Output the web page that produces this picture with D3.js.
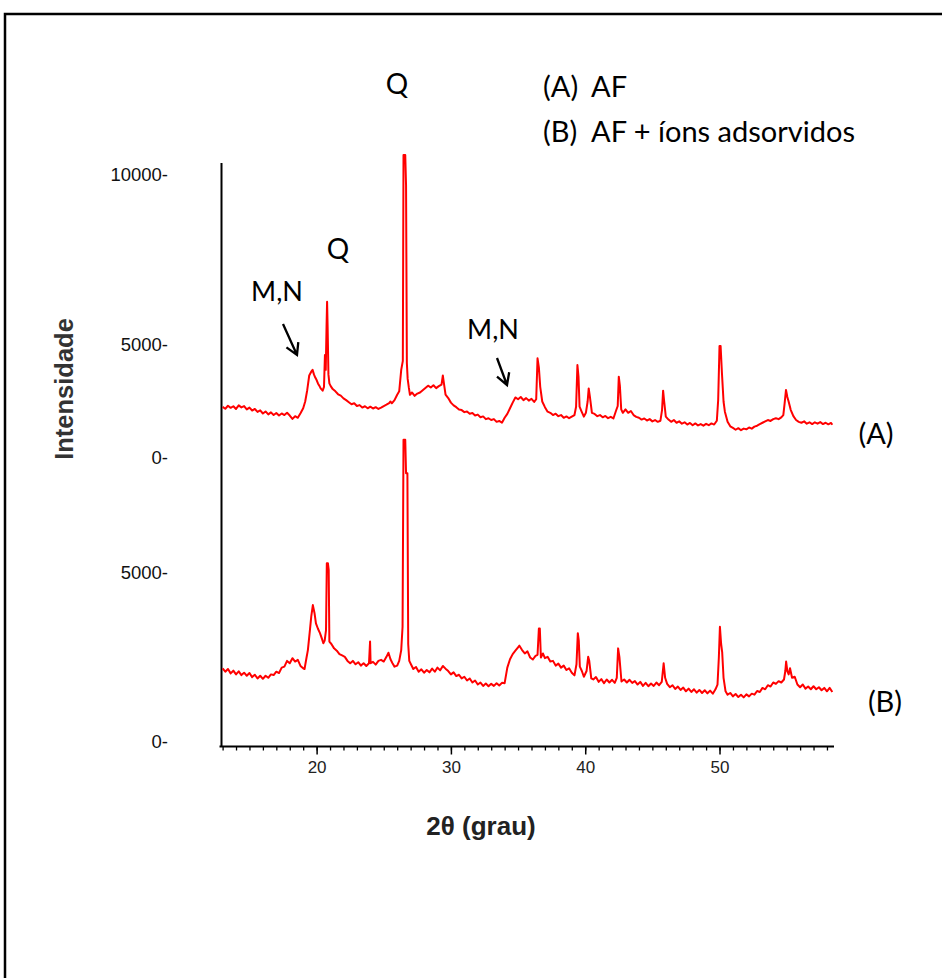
<!DOCTYPE html>
<html>
<head>
<meta charset="utf-8">
<script src="https://cdn.jsdelivr.net/npm/d3@7"></script>
<style>
  body { margin: 0; background: #fff; }
  svg { display: block; }
</style>
</head>
<body>
<div id="chart"></div>
<script>
// tick values
const xMajorTicks = [20, 30, 40, 50];
const xMinorTicks = d3.range(13, 59, 1);
const yTicksA = [0, 5000, 10000];
const yTicksB = [0, 5000];

// (A) AF  -  [2theta, intensity]
const patternA = [
  [13.0,2260],[13.2,2180],[13.4,2310],[13.6,2220],[13.8,2290],[14.0,2170],[14.2,2330],[14.4,2240],[14.6,2300],[14.8,2150],
  [15.0,2230],[15.2,2100],[15.4,2170],[15.6,2040],[15.8,2110],[16.0,1970],[16.2,2060],[16.4,1930],[16.6,2020],[16.8,1900],
  [17.0,1990],[17.2,1880],[17.4,1970],[17.6,1900],[17.8,2000],[18.0,1880],[18.2,1730],[18.4,1850],[18.6,1780],[18.8,1980],
  [19.0,2200],[19.15,2500],[19.3,3000],[19.45,3650],[19.6,3820],[19.7,3900],[19.8,3700],[19.9,3560],[20.0,3450],[20.1,3300],
  [20.2,3200],[20.3,3080],[20.45,2980],[20.55,3150],[20.62,4560],[20.68,3900],[20.74,5540],[20.78,6270],[20.82,5540],[20.88,3700],
  [20.95,3300],[21.05,3180],[21.2,3050],[21.4,2950],[21.6,2820],[21.8,2760],[22.0,2640],[22.2,2560],[22.4,2470],[22.6,2380],
  [22.8,2420],[23.0,2300],[23.2,2340],[23.4,2230],[23.6,2290],[23.8,2200],[24.0,2270],[24.2,2190],[24.4,2250],[24.6,2170],
  [24.8,2230],[25.0,2300],[25.2,2360],[25.4,2430],[25.5,2500],[25.6,2420],[25.8,2560],[26.0,2800],[26.15,2950],[26.3,3900],
  [26.42,4300],[26.47,10590],[26.6,10590],[26.66,9700],[26.72,4200],[26.78,3500],[26.87,3100],[26.95,2800],[27.1,2900],[27.3,2750],
  [27.5,2850],[27.7,2900],[27.9,3000],[28.1,3100],[28.3,3200],[28.5,3120],[28.7,3220],[28.9,3090],[29.1,3180],[29.3,3250],
  [29.4,3650],[29.48,3300],[29.6,2800],[29.8,2650],[30.0,2450],[30.2,2330],[30.4,2250],[30.6,2150],[30.8,2120],[31.0,2030],
  [31.2,2060],[31.4,1960],[31.6,1990],[31.8,1880],[32.0,1920],[32.2,1800],[32.4,1840],[32.6,1720],[32.8,1760],[33.0,1680],
  [33.2,1720],[33.4,1600],[33.6,1640],[33.8,1560],[34.0,1780],[34.2,1950],[34.4,2200],[34.6,2450],[34.8,2680],[35.0,2600],
  [35.2,2700],[35.4,2560],[35.6,2650],[35.8,2540],[36.0,2620],[36.2,2480],[36.35,2600],[36.45,4410],[36.55,4000],[36.65,3150],
  [36.8,2500],[37.0,2250],[37.2,2050],[37.4,2000],[37.6,1900],[37.8,1960],[38.0,1850],[38.2,1900],[38.4,1780],[38.6,1840],
  [38.8,1760],[39.0,1830],[39.2,1900],[39.32,2270],[39.42,4110],[39.5,3600],[39.58,2270],[39.7,2100],[39.9,1830],[40.05,2000],
  [40.18,2500],[40.26,3080],[40.35,2700],[40.5,2000],[40.7,1950],[40.9,1850],[41.1,1900],[41.3,1800],[41.5,1860],[41.7,1760],
  [41.9,1820],[42.1,1750],[42.3,2100],[42.42,2300],[42.5,3600],[42.58,3200],[42.68,2150],[42.8,2000],[43.0,2150],[43.2,2000],
  [43.4,2080],[43.6,1900],[43.8,1820],[44.0,1780],[44.2,1700],[44.4,1750],[44.6,1660],[44.8,1720],[45.0,1620],[45.2,1680],
  [45.4,1600],[45.6,1650],[45.72,2120],[45.8,2980],[45.88,2500],[46.0,1830],[46.2,1700],[46.4,1600],[46.6,1680],[46.8,1560],
  [47.0,1620],[47.2,1520],[47.4,1580],[47.6,1480],[47.8,1550],[48.0,1450],[48.2,1530],[48.4,1440],[48.6,1500],[48.8,1430],
  [49.0,1510],[49.2,1450],[49.4,1530],[49.6,1480],[49.8,1650],[49.9,2560],[50.0,4960],[50.08,4960],[50.18,3760],[50.3,2500],
  [50.4,2050],[50.6,1600],[50.8,1400],[51.0,1330],[51.2,1250],[51.4,1320],[51.6,1230],[51.8,1300],[52.0,1270],[52.2,1350],
  [52.4,1300],[52.6,1390],[52.8,1430],[53.0,1500],[53.2,1560],[53.4,1620],[53.6,1680],[53.8,1640],[54.0,1720],[54.2,1760],
  [54.4,1720],[54.6,1800],[54.75,1900],[54.85,2430],[54.95,3010],[55.05,2700],[55.15,2490],[55.3,2130],[55.5,1850],[55.7,1680],
  [55.9,1600],[56.1,1560],[56.3,1620],[56.5,1520],[56.7,1580],[56.9,1500],[57.1,1580],[57.3,1520],[57.5,1590],[57.7,1500],
  [57.9,1560],[58.1,1490],[58.3,1550],[58.4,1470]
];

// (B) AF + ions adsorvidos
const patternB = [
  [13.0,2180],[13.2,2080],[13.4,2160],[13.6,2030],[13.8,2110],[14.0,2000],[14.2,2090],[14.4,1980],[14.6,2050],[14.8,1960],
  [15.0,2040],[15.2,1920],[15.4,1990],[15.6,1880],[15.8,1960],[16.0,1870],[16.2,1960],[16.4,1900],[16.6,2000],[16.8,1980],
  [17.0,2080],[17.2,2040],[17.4,2200],[17.6,2230],[17.8,2400],[18.0,2330],[18.2,2480],[18.4,2380],[18.6,2430],[18.8,2250],
  [19.0,2180],[19.1,2160],[19.25,2500],[19.35,2720],[19.5,3300],[19.6,3710],[19.72,4050],[19.85,3800],[19.95,3510],[20.1,3350],
  [20.25,3220],[20.4,3050],[20.5,2920],[20.6,3000],[20.7,3310],[20.76,5290],[20.84,5290],[20.9,5090],[20.95,2970],[21.1,2900],
  [21.3,2770],[21.5,2700],[21.7,2600],[21.9,2560],[22.1,2520],[22.3,2400],[22.5,2330],[22.7,2400],[22.9,2300],[23.1,2360],
  [23.3,2260],[23.5,2330],[23.7,2250],[23.9,2330],[23.98,2970],[24.02,2330],[24.2,2370],[24.4,2290],[24.6,2400],[24.8,2430],
  [25.0,2380],[25.2,2520],[25.35,2640],[25.5,2450],[25.65,2330],[25.8,2230],[26.0,2260],[26.15,2400],[26.3,2720],[26.4,3410],
  [26.47,8940],[26.6,8940],[26.66,7950],[26.76,7950],[26.82,2900],[26.9,2400],[27.05,2280],[27.2,2160],[27.4,2220],[27.6,2080],
  [27.8,2150],[28.0,2050],[28.2,2130],[28.4,2060],[28.6,2170],[28.8,2080],[29.0,2200],[29.2,2120],[29.4,2250],[29.6,2170],
  [29.8,2100],[30.0,2000],[30.2,2060],[30.4,1950],[30.6,1990],[30.8,1880],[31.0,1930],[31.2,1820],[31.4,1880],[31.6,1760],
  [31.8,1820],[32.0,1700],[32.2,1760],[32.4,1660],[32.6,1730],[32.8,1650],[33.0,1720],[33.2,1660],[33.4,1740],[33.6,1670],
  [33.8,1750],[34.0,1740],[34.2,2200],[34.4,2450],[34.6,2600],[34.8,2700],[35.0,2800],[35.1,2850],[35.3,2720],[35.5,2620],
  [35.7,2680],[35.9,2500],[36.1,2440],[36.3,2550],[36.45,2580],[36.55,3360],[36.62,3360],[36.7,2500],[36.85,2620],[37.0,2480],
  [37.2,2520],[37.4,2380],[37.6,2400],[37.8,2260],[38.0,2320],[38.2,2200],[38.4,2260],[38.6,2130],[38.8,2180],[39.0,2050],
  [39.2,1970],[39.35,2300],[39.45,3220],[39.52,3000],[39.6,2230],[39.75,2100],[39.9,1930],[40.1,2100],[40.22,2520],[40.3,2400],
  [40.45,1880],[40.6,1850],[40.8,1920],[41.0,1780],[41.2,1860],[41.4,1740],[41.6,1850],[41.8,1760],[42.0,1840],[42.2,1750],
  [42.35,1900],[42.45,2770],[42.55,2500],[42.7,1790],[42.9,1850],[43.1,1760],[43.3,1840],[43.5,1750],[43.7,1800],[43.9,1700],
  [44.1,1780],[44.3,1660],[44.5,1750],[44.7,1650],[44.9,1730],[45.1,1660],[45.3,1760],[45.5,1680],[45.7,1780],[45.84,2330],
  [45.95,1900],[46.1,1720],[46.3,1620],[46.5,1680],[46.7,1570],[46.9,1640],[47.1,1540],[47.3,1610],[47.5,1500],[47.7,1580],
  [47.9,1480],[48.1,1560],[48.3,1460],[48.5,1540],[48.7,1450],[48.9,1530],[49.1,1440],[49.3,1520],[49.5,1430],[49.7,1560],
  [49.85,1700],[49.95,2500],[50.03,3410],[50.12,2900],[50.2,2650],[50.3,1900],[50.45,1500],[50.6,1400],[50.8,1450],[51.0,1350],
  [51.2,1420],[51.4,1330],[51.6,1400],[51.8,1320],[52.0,1410],[52.2,1350],[52.4,1430],[52.6,1400],[52.8,1510],[53.0,1480],
  [53.2,1600],[53.4,1560],[53.6,1680],[53.8,1640],[54.0,1760],[54.2,1720],[54.4,1800],[54.6,1760],[54.8,1850],[54.9,2100],
  [54.96,2380],[55.05,2100],[55.15,2000],[55.25,2180],[55.4,1900],[55.6,1930],[55.8,1700],[56.0,1620],[56.2,1700],[56.4,1580],
  [56.6,1640],[56.8,1560],[57.0,1650],[57.2,1560],[57.4,1620],[57.6,1530],[57.8,1600],[58.0,1500],[58.2,1600],[58.4,1480]
];

const width = 942, height = 978;
const calibri = "Lato, 'Open Sans', sans-serif";

const svg = d3.select("#chart")
  .append("svg")
    .attr("width", width)
    .attr("height", height);

svg.append("rect")
  .attr("width", width).attr("height", height)
  .attr("fill", "#fff");

// outer frame (runs off the right and bottom edges)
svg.append("rect")
  .attr("x", 5).attr("y", 14)
  .attr("width", 1000).attr("height", 1000)
  .attr("fill", "none")
  .attr("stroke", "#000")
  .attr("stroke-width", 2.5);

const x = d3.scaleLinear()
  .domain([13, 58.45])
  .range([222.6, 833]);

// the two traces are stacked, each with its own intensity scale
const yA = d3.scaleLinear()
  .domain([0, 5000, 10000])
  .range([458, 345, 175]);

const yB = d3.scaleLinear()
  .domain([0, 5000])
  .range([742, 573]);

const axisY = 746.5;

// vertical axis line
svg.append("line")
  .attr("x1", 221.5).attr("x2", 221.5)
  .attr("y1", 163).attr("y2", axisY)
  .attr("stroke", "#000")
  .attr("stroke-width", 2);

// x axis, minor ticks
const xMinor = svg.append("g")
  .attr("transform", "translate(0," + axisY + ")")
  .call(d3.axisBottom(x).tickValues(xMinorTicks).tickSize(4).tickSizeOuter(0).tickFormat(""));
xMinor.select(".domain").attr("stroke-width", 2).attr("d", "M219.5,0H834");
xMinor.selectAll(".tick line").attr("stroke-width", 1.3);

// x axis, major ticks with labels
const xMajor = svg.append("g")
  .attr("transform", "translate(0," + axisY + ")")
  .call(d3.axisBottom(x).tickValues(xMajorTicks).tickSize(8).tickPadding(6).tickSizeOuter(0));
xMajor.select(".domain").remove();
xMajor.selectAll(".tick line").attr("stroke-width", 1.5);
xMajor.selectAll(".tick text")
  .attr("fill", "#222")
  .style("font-family", "'Liberation Sans Narrow', 'Liberation Sans', Arial, sans-serif")
  .style("font-size", "17px");

// y tick labels, written as "5000-"
function drawYLabels(scale, values) {
  const g = svg.append("g")
    .attr("transform", "translate(168,0)")
    .call(d3.axisLeft(scale).tickValues(values).tickSize(0).tickPadding(0)
      .tickFormat(function(d) { return d + "-"; }));
  g.select(".domain").remove();
  g.selectAll(".tick text")
    .attr("fill", "#111")
    .style("font-family", "'Liberation Sans', Arial, sans-serif")
    .style("font-size", "18.5px");
}
drawYLabels(yA, yTicksA);
drawYLabels(yB, yTicksB);

// traces
const lineA = d3.line()
  .x(function(d) { return x(d[0]); })
  .y(function(d) { return yA(d[1]); });
const lineB = d3.line()
  .x(function(d) { return x(d[0]); })
  .y(function(d) { return yB(d[1]); });

svg.append("path")
  .datum(patternA)
  .attr("d", lineA)
  .attr("fill", "none")
  .attr("stroke", "#ff0000")
  .attr("stroke-width", 2)
  .attr("stroke-linejoin", "round");

svg.append("path")
  .datum(patternB)
  .attr("d", lineB)
  .attr("fill", "none")
  .attr("stroke", "#ff0000")
  .attr("stroke-width", 2)
  .attr("stroke-linejoin", "round");

// axis titles
svg.append("text")
  .attr("x", 481).attr("y", 835)
  .attr("text-anchor", "middle")
  .attr("fill", "#222")
  .style("font-family", "'Liberation Sans', Arial, sans-serif")
  .style("font-weight", "bold")
  .style("font-size", "26px")
  .text("2θ (grau)");

svg.append("text")
  .attr("transform", "translate(73,389) rotate(-90)")
  .attr("text-anchor", "middle")
  .attr("fill", "#333")
  .style("font-family", "'Liberation Sans', Arial, sans-serif")
  .style("font-weight", "bold")
  .style("font-size", "25.5px")
  .text("Intensidade");

// annotations
function note(tx, ty, str, size, anchor) {
  svg.append("text")
    .attr("x", tx).attr("y", ty)
    .attr("text-anchor", anchor || "middle")
    .attr("dominant-baseline", "central")
    .attr("fill", "#000")
    .style("font-family", calibri)
    .style("font-size", size + "px")
    .text(str);
}
note(397, 83, "Q", 28);
note(543, 85, "(A)", 29, "start");
note(591, 85, "AF", 29, "start");
note(543, 130, "(B)", 29, "start");
note(591, 130, "AF + íons adsorvidos", 29, "start");
note(338, 248, "Q", 28);
note(277, 290, "M,N", 27);
note(493, 328, "M,N", 27);
note(876, 432, "(A)", 29);
note(885, 700, "(B)", 29);

// open-headed arrows
function arrow(x1, y1, x2, y2) {
  const a = Math.atan2(y2 - y1, x2 - x1);
  const len = 13, spread = Math.PI / 6;
  const p = d3.path();
  p.moveTo(x1, y1);
  p.lineTo(x2, y2);
  p.moveTo(x2 - len * Math.cos(a - spread), y2 - len * Math.sin(a - spread));
  p.lineTo(x2, y2);
  p.lineTo(x2 - len * Math.cos(a + spread), y2 - len * Math.sin(a + spread));
  svg.append("path")
    .attr("d", p.toString())
    .attr("fill", "none")
    .attr("stroke", "#000")
    .attr("stroke-width", 2.3);
}
arrow(283, 324, 297, 355);
arrow(497, 358, 507, 385);
</script>
</body>
</html>
